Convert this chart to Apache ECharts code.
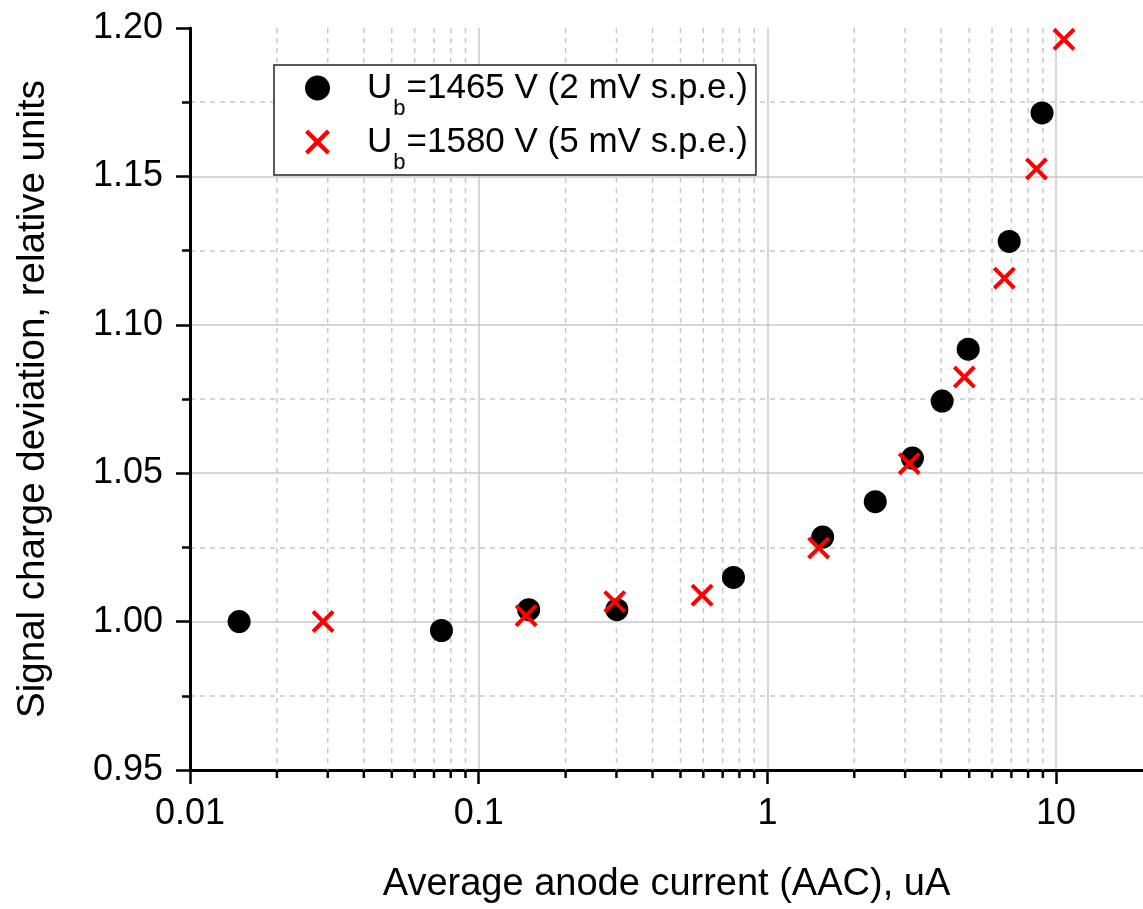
<!DOCTYPE html>
<html><head><meta charset="utf-8">
<script src="https://cdn.jsdelivr.net/npm/echarts@6/dist/echarts.min.js"></script>
<style>html,body{margin:0;padding:0;background:#fff}#c{width:1143px;height:909px}</style>
</head><body><div id="c"></div>
<script>
// ---- data ----
const seriesNames = ['Ub=1465 V (2 mV s.p.e.)', 'Ub=1580 V (5 mV s.p.e.)'];
const aac1465 = [0.0148, 0.0743, 0.149, 0.301, 0.763, 1.554, 2.364, 3.18, 4.03, 4.96, 6.88, 8.94];
const dev1465 = [1.000, 0.997, 1.004, 1.004, 1.0149, 1.0285, 1.0404, 1.0551, 1.0743, 1.0918, 1.1281, 1.1714];
const aac1580 = [0.0289, 0.146, 0.296, 0.594, 1.505, 3.10, 4.81, 6.62, 8.55, 10.65];
const dev1580 = [1.000, 1.002, 1.0067, 1.0089, 1.0248, 1.0532, 1.0824, 1.1157, 1.1525, 1.1962];
const xRange = [0.01, 20];
const yRange = [0.95, 1.20];
const yStep = 0.05;
const minorX = [0.02,0.03,0.04,0.05,0.06,0.07,0.08,0.09,
                0.2,0.3,0.4,0.5,0.6,0.7,0.8,0.9,
                2,3,4,5,6,7,8,9];
const xTitle = 'Average anode current (AAC), uA';
const yTitle = 'Signal charge deviation, relative units';

// ---- chart ----
const FONT = '"Liberation Sans", Arial, sans-serif';
const GRID = '#c8c8c8';
const crossPath = 'path://M2.5,0L10,7.5L17.5,0L20,2.5L12.5,10L20,17.5L17.5,20L10,12.5L2.5,20L0,17.5L7.5,10L0,2.5Z';
const zip = (a, b) => a.map((v, i) => [v, b[i]]);

const chart = echarts.init(document.getElementById('c'), null, {renderer: 'canvas'});
const option = {
  animation: false,
  backgroundColor: '#fff',
  textStyle: {fontFamily: FONT},
  grid: {left: 190, top: 28, right: 0, bottom: 137},
  legend: {
    data: seriesNames,
    orient: 'vertical',
    left: 274, top: 65,
    padding: [5.5, 8, 1.5, 31],
    itemGap: 5,
    itemWidth: 25, itemHeight: 25,
    borderColor: '#222', borderWidth: 1.5,
    backgroundColor: '#fff',
    selectedMode: false,
    formatter: name => '{cap|U}{sub|b}{txt|' + name.slice(2) + '}',
    textStyle: {
      fontFamily: FONT, color: '#000',
      rich: {
        cap: {fontSize: 35, lineHeight: 35, fontFamily: FONT, color: '#000', padding: [0, 0, 0, 32]},
        sub: {fontSize: 22, lineHeight: 22, fontFamily: FONT, color: '#000', padding: [27, 1, 0, 1], verticalAlign: 'top'},
        txt: {fontSize: 35, lineHeight: 35, fontFamily: FONT, color: '#000'}
      }
    }
  },
  xAxis: {
    type: 'log', logBase: 10, min: xRange[0], max: xRange[1],
    name: xTitle, nameLocation: 'middle', nameGap: 96,
    nameTextStyle: {fontSize: 38, color: '#000', fontFamily: FONT},
    axisLine: {show: true, lineStyle: {color: '#000', width: 3}},
    axisTick: {show: true, inside: false, length: 14, lineStyle: {color: '#000', width: 2.5}},
    minorTick: {show: false},
    splitLine: {show: true, showMaxLine: false, lineStyle: {color: GRID, width: 1.5}},
    axisLabel: {fontSize: 36, color: '#000', margin: 26, fontFamily: FONT, showMaxLabel: false,
      formatter: v => String(parseFloat(Number(v).toPrecision(4)))}
  },
  yAxis: {
    type: 'value', min: yRange[0], max: yRange[1], interval: yStep,
    name: yTitle, nameLocation: 'middle', nameGap: 137,
    nameTextStyle: {fontSize: 38.5, color: '#000', fontFamily: FONT},
    axisLine: {show: true, lineStyle: {color: '#000', width: 3}},
    axisTick: {show: true, inside: false, length: 14, lineStyle: {color: '#000', width: 2.5}},
    minorTick: {show: true, splitNumber: 2, length: 8, lineStyle: {color: '#000', width: 2.5}},
    splitLine: {show: true, showMaxLine: false, lineStyle: {color: GRID, width: 1.5}},
    minorSplitLine: {show: true, lineStyle: {color: GRID, width: 1.5, type: [5, 5]}},
    axisLabel: {fontSize: 36, color: '#000', margin: 27, fontFamily: FONT,
      formatter: v => Number(v).toFixed(2)}
  },
  series: [
    {
      type: 'custom', name: 'minor', silent: true, clip: false, z: 1,
      data: minorX.map(v => [v, yRange[0]]),
      renderItem: (params, api) => {
        const x = api.value(0);
        const top = api.coord([x, yRange[1]]);
        const bot = api.coord([x, yRange[0]]);
        return {type: 'group', children: [
          {type: 'line', shape: {x1: top[0], y1: top[1], x2: bot[0], y2: bot[1]},
           style: {stroke: GRID, lineWidth: 1.5, lineDash: [5, 5]}},
          {type: 'line', shape: {x1: bot[0], y1: bot[1], x2: bot[0], y2: bot[1] + 8},
           style: {stroke: '#000', lineWidth: 2.5}}
        ]};
      }
    },
    {
      type: 'scatter', name: seriesNames[0], z: 3,
      symbol: 'circle', symbolSize: 23,
      itemStyle: {color: '#000', opacity: 1},
      data: zip(aac1465, dev1465)
    },
    {
      type: 'scatter', name: seriesNames[1], z: 4,
      symbol: crossPath, symbolSize: 23,
      itemStyle: {color: '#ff0000', opacity: 1},
      data: zip(aac1580, dev1580)
    }
  ]
};
chart.setOption(option);
</script>
</body></html>
